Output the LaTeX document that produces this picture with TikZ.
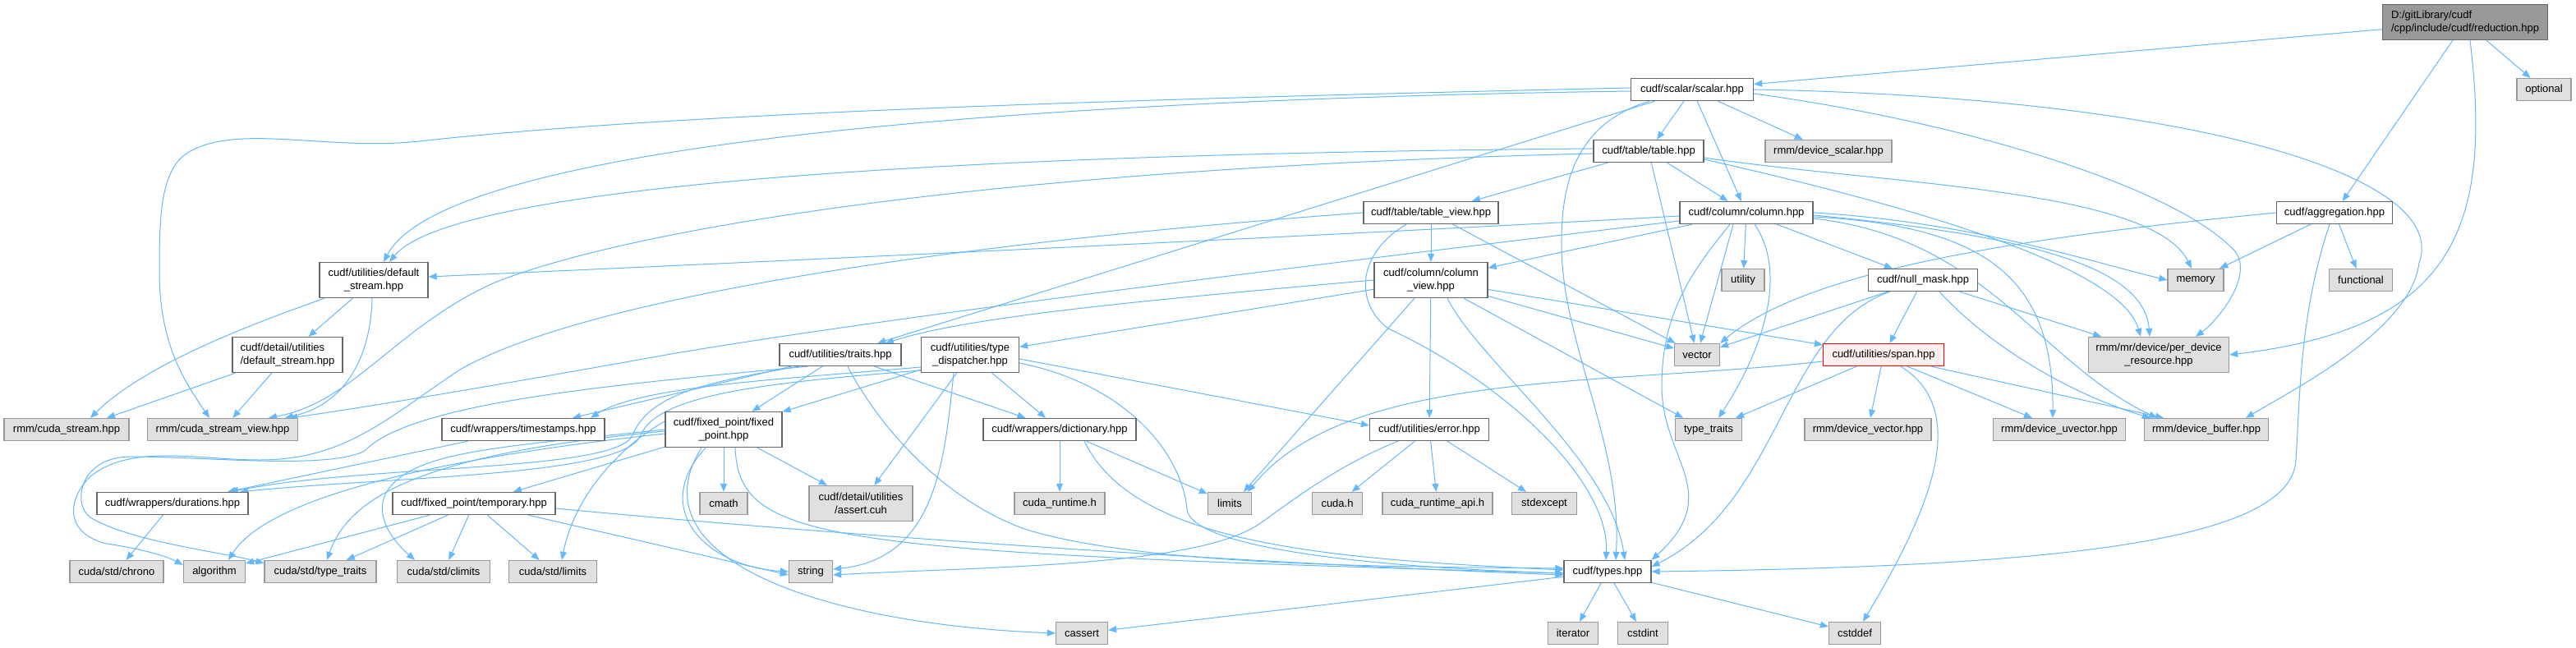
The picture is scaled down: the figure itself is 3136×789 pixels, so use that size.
\documentclass[tikz,border=0pt]{standalone}
\usepackage{fontspec}
\setmainfont{Liberation Sans}
\usetikzlibrary{arrows.meta,backgrounds}
\definecolor{edgecol}{HTML}{63B8FF}
\definecolor{docborder}{HTML}{666666}
\definecolor{extborder}{HTML}{999999}
\definecolor{extfill}{HTML}{E0E0E0}
\definecolor{rootfill}{HTML}{999999}
\definecolor{spanfill}{HTML}{FFF0F0}
\definecolor{spanborder}{HTML}{FF0000}
\tikzset{
  box/.style={draw=docborder, line width=1.3pt, fill=white, minimum height=27pt, inner sep=0pt, align=center, font=\fontsize{13}{16.5}\selectfont, text=black},
  ext/.style={box, draw=extborder, fill=extfill},
  rootbox/.style={box, fill=rootfill, draw=docborder},
  redbox/.style={box, fill=spanfill, draw=spanborder},
  tall/.style={minimum height=43pt},
  edge/.style={draw=edgecol, line width=1pt, -{Triangle[length=10pt,width=8pt]}},
}
\begin{document}
\begin{tikzpicture}[x=1pt,y=1pt]
\useasboundingbox (0,0) rectangle (3136,-789);
% ---------------- nodes
\node[rootbox,tall,minimum width=201pt,align=left] (root) at (3001,-27) {D:/gitLibrary/cudf\\/cpp/include/cudf/reduction.hpp};
\node[box,minimum width=149pt] (scalar) at (2060,-109) {cudf/scalar/scalar.hpp};
\node[ext,minimum width=66pt] (optional) at (3097,-109) {optional};
\node[box,minimum width=134pt] (table) at (2007,-184) {cudf/table/table.hpp};
\node[ext,minimum width=154pt] (devscalar) at (2226,-184) {rmm/device\_scalar.hpp};
\node[box,minimum width=164pt] (tableview) at (1742,-259) {cudf/table/table\_view.hpp};
\node[box,minimum width=162pt] (column) at (2126,-259) {cudf/column/column.hpp};
\node[box,minimum width=141pt] (aggregation) at (2842,-259) {cudf/aggregation.hpp};
\node[box,tall,minimum width=132pt] (defstream) at (455,-341) {cudf/utilities/default\\\_stream.hpp};
\node[box,tall,minimum width=138pt] (colview) at (1742,-341) {cudf/column/column\\\_view.hpp};
\node[ext,minimum width=52pt] (utility) at (2122,-341) {utility};
\node[box,minimum width=133pt] (nullmask) at (2341,-341) {cudf/null\_mask.hpp};
\node[ext,minimum width=68pt] (memory) at (2673,-341) {memory};
\node[ext,minimum width=77pt] (functional) at (2874,-341) {functional};
\node[box,tall,minimum width=134pt,align=left] (detdefstream) at (350,-432) {cudf/detail/utilities\\/default\_stream.hpp};
\node[box,minimum width=148pt] (traits) at (1023,-432) {cudf/utilities/traits.hpp};
\node[box,tall,minimum width=119pt] (typedisp) at (1181,-432) {cudf/utilities/type\\\_dispatcher.hpp};
\node[ext,minimum width=55pt] (vector) at (2066,-432) {vector};
\node[redbox,minimum width=147pt] (span) at (2293,-432) {cudf/utilities/span.hpp};
\node[ext,tall,minimum width=171pt] (perdev) at (2628,-432) {rmm/mr/device/per\_device\\\_resource.hpp};
\node[ext,minimum width=152pt] (cudastream) at (81,-523) {rmm/cuda\_stream.hpp};
\node[ext,minimum width=183pt] (cudastreamview) at (271,-523) {rmm/cuda\_stream\_view.hpp};
\node[box,minimum width=198pt] (timestamps) at (637,-523) {cudf/wrappers/timestamps.hpp};
\node[box,tall,minimum width=142pt] (fixedpoint) at (881,-523) {cudf/fixed\_point/fixed\\\_point.hpp};
\node[box,minimum width=186pt] (dictionary) at (1290,-523) {cudf/wrappers/dictionary.hpp};
\node[box,minimum width=145pt] (error) at (1740,-523) {cudf/utilities/error.hpp};
\node[ext,minimum width=81pt] (typetraits) at (2080,-523) {type\_traits};
\node[ext,minimum width=154pt] (devvector) at (2274,-523) {rmm/device\_vector.hpp};
\node[ext,minimum width=161pt] (devuvector) at (2507,-523) {rmm/device\_uvector.hpp};
\node[ext,minimum width=151pt] (devbuffer) at (2686,-523) {rmm/device\_buffer.hpp};
\node[box,minimum width=184pt] (durations) at (210,-613) {cudf/wrappers/durations.hpp};
\node[box,minimum width=198pt] (temporary) at (577,-613) {cudf/fixed\_point/temporary.hpp};
\node[ext,minimum width=58pt] (cmath) at (881,-613) {cmath};
\node[ext,tall,minimum width=126pt] (assert) at (1048,-613) {cudf/detail/utilities\\/assert.cuh};
\node[ext,minimum width=110pt] (cudaruntime) at (1290,-613) {cuda\_runtime.h};
\node[ext,minimum width=53pt] (limits) at (1497,-613) {limits};
\node[ext,minimum width=61pt] (cudah) at (1628,-613) {cuda.h};
\node[ext,minimum width=134pt] (cudaruntimeapi) at (1750,-613) {cuda\_runtime\_api.h};
\node[ext,minimum width=79pt] (stdexcept) at (1880,-613) {stdexcept};
\node[ext,minimum width=114pt] (chrono) at (142,-696) {cuda/std/chrono};
\node[ext,minimum width=75pt] (algorithm) at (261,-696) {algorithm};
\node[ext,minimum width=136pt] (cstdtypetraits) at (390,-696) {cuda/std/type\_traits};
\node[ext,minimum width=113pt] (climits) at (540,-696) {cuda/std/climits};
\node[ext,minimum width=107pt] (cstdlimits) at (673,-696) {cuda/std/limits};
\node[ext,minimum width=53pt] (string) at (987,-696) {string};
\node[box,minimum width=106pt] (types) at (1957,-696) {cudf/types.hpp};
\node[ext,minimum width=63pt] (cassert) at (1317,-771) {cassert};
\node[ext,minimum width=61pt] (iterator) at (1915,-771) {iterator};
\node[ext,minimum width=61pt] (cstdint) at (2000,-771) {cstdint};
\node[ext,minimum width=63pt] (cstddef) at (2258,-771) {cstddef};
% ---------------- edges
\begin{scope}[on background layer]
\fill[white] (0,0) rectangle (3136,-789);
% root
\draw[edge] (root) -- (scalar);
\draw[edge] (root) -- (optional);
\draw[edge] (root) -- (aggregation);
\draw[edge] ([xshift=6pt]root.south) .. controls (3035,-280) and (2985,-400) .. (perdev.east);
% aggregation
\draw[edge] (aggregation) -- (memory);
\draw[edge] (aggregation) -- (functional);
\draw[edge] (aggregation.west) .. controls (2450,-290) and (2200,-330) .. (vector.north east);
\draw[edge] ([xshift=-6pt]aggregation.south) .. controls (2800,-380) and (2800,-480) .. (2795,-560) .. controls (2790,-660) and (2500,-690) .. (types.east);
% scalar
\draw[edge] (scalar) -- (table);
\draw[edge] (scalar) -- (column);
\draw[edge] (scalar) -- (devscalar);
\draw[edge] ([yshift=-2pt]scalar.west) .. controls (1200,-122) and (540,-180) .. ([xshift=12pt]defstream.north);
\draw[edge] ([yshift=2pt]scalar.west) .. controls (1300,-122) and (800,-140) .. (510,-172) .. controls (400,-184) and (290,-150) .. (230,-185) .. controls (196,-205) and (194,-260) .. (194,-330) .. controls (194,-420) and (225,-465) .. ([xshift=-16pt]cudastreamview.north);
\draw[edge] (scalar) -- (traits);
\draw[edge] ([xshift=-52pt]scalar.south) .. controls (1920,-150) and (1900,-220) .. (1901,-300) .. controls (1902,-420) and (1975,-540) .. ([xshift=10pt]types.north);
\draw[edge] (scalar.east) .. controls (2650,-118) and (2985,-210) .. (2945,-320) .. controls (2935,-400) and (2800,-470) .. ([xshift=48pt]devbuffer.north);
\draw[edge] ([yshift=-5pt]scalar.east) .. controls (2400,-150) and (2650,-230) .. (2720,-305) .. controls (2745,-335) and (2700,-390) .. ([xshift=45pt]perdev.north);
% table
\draw[edge] (table) -- (tableview);
\draw[edge] (table) -- (column);
\draw[edge] (table) -- (vector);
\draw[edge] ([yshift=3pt]table.west) .. controls (1300,-186) and (560,-215) .. ([xshift=19pt]defstream.north);
\draw[edge] ([yshift=-3pt]table.west) .. controls (1200,-205) and (760,-280) .. (600,-345) .. controls (480,-400) and (430,-490) .. ([xshift=56pt]cudastreamview.north);
\draw[edge] ([yshift=-8pt]table.east) .. controls (2300,-225) and (2620,-230) .. ([xshift=-5pt]memory.north);
\draw[edge] ([yshift=-10pt]table.east) .. controls (2300,-245) and (2580,-320) .. ([xshift=-22pt]perdev.north);
% table_view
\draw[edge] (tableview) -- (colview);
\draw[edge] (tableview) -- (vector);
\draw[edge] ([xshift=-30pt]tableview.south) .. controls (1650,-310) and (1650,-370) .. (1690,-400) .. controls (1840,-470) and (1960,-590) .. ([xshift=-2pt]types.north);
\draw[edge] (tableview.west) .. controls (1100,-300) and (700,-370) .. (560,-450) .. controls (470,-510) and (420,-560) .. (316,-560) .. controls (240,-560) and (160,-540) .. (110,-580) .. controls (80,-610) and (80,-650) .. (130,-662) .. controls (170,-668) and (200,-676) .. ([yshift=-6pt]algorithm.north west);
% column
\draw[edge] (column) -- (colview);
\draw[edge] (column) -- (nullmask);
\draw[edge] (column) -- (utility);
\draw[edge] ([xshift=-16pt]column.south) -- (vector);
\draw[edge] ([xshift=-20pt]column.south) .. controls (2060,-330) and (2023,-380) .. (2023,-470) .. controls (2023,-560) and (2100,-600) .. (types.north east);
\draw[edge] ([xshift=10pt]column.south) .. controls (2175,-330) and (2150,-420) .. ([xshift=12pt]typetraits.north);
\draw[edge] ([yshift=-4pt]column.west) .. controls (1600,-288) and (900,-320) .. ([yshift=4pt]defstream.east);
\draw[edge] ([yshift=-10pt]column.west) .. controls (1600,-322) and (1050,-390) .. (800,-434) .. controls (600,-470) and (420,-500) .. ([xshift=81pt]cudastreamview.north);
\draw[edge] (column.east) .. controls (2400,-270) and (2550,-320) .. (memory.west);
\draw[edge] ([yshift=-3pt]column.east) .. controls (2450,-285) and (2610,-320) .. ([xshift=-11pt]perdev.north);
\draw[edge] ([yshift=-5pt]column.east) .. controls (2420,-275) and (2500,-340) .. ([xshift=-8pt]devuvector.north);
\draw[edge] ([yshift=-7pt]column.east) .. controls (2420,-290) and (2480,-440) .. ([xshift=-60pt]devbuffer.north);
% column_view
\draw[edge] (colview) -- (error);
\draw[edge] ([xshift=-20pt]colview.south) -- ([xshift=17pt]limits.north);
\draw[edge] (colview) -- (span);
\draw[edge] (colview.west) .. controls (1400,-365) and (1180,-385) .. ([xshift=55pt]traits.north);
\draw[edge] (colview) -- (typedisp);
\draw[edge] ([xshift=40pt]colview.south) -- ([xshift=-31pt]typetraits.north);
\draw[edge] ([xshift=20pt]colview.south) .. controls (1800,-440) and (1960,-560) .. ([xshift=21pt]types.north);
\draw[edge] (colview) -- (vector);
% null_mask
\draw[edge] (nullmask) -- (span);
\draw[edge] ([xshift=-40pt]nullmask.south) .. controls (2170,-400) and (2170,-610) .. ([yshift=6pt]types.east);
\draw[edge] (nullmask) -- (vector);
\draw[edge] (nullmask) -- (perdev);
\draw[edge] ([xshift=20pt]nullmask.south) .. controls (2420,-420) and (2520,-480) .. ([xshift=-68pt]devbuffer.north);
% default_stream
\draw[edge] (defstream) -- (detdefstream);
\draw[edge] ([xshift=-60pt]defstream.south) .. controls (320,-390) and (180,-440) .. ([xshift=29pt]cudastream.north);
\draw[edge] ([xshift=-2pt]defstream.south) .. controls (452,-420) and (430,-490) .. ([xshift=76pt]cudastreamview.north);
\draw[edge] (detdefstream) -- ([xshift=49pt]cudastream.north);
\draw[edge] (detdefstream) -- (cudastreamview);
% traits
\draw[edge] (traits) -- (fixedpoint);
\draw[edge] (traits) -- (dictionary);
\draw[edge] ([xshift=9pt]traits.south) .. controls (1070,-520) and (1150,-610) .. (1250,-645) .. controls (1400,-690) and (1700,-690) .. ([yshift=4pt]types.west);
\draw[edge] (traits) -- (timestamps);
\draw[edge] ([xshift=-50pt]traits.south) .. controls (860,-465) and (790,-480) .. (770,-530) .. controls (750,-575) and (450,-565) .. ([xshift=70pt]durations.north);
\draw[edge] ([xshift=-40pt]traits.south) .. controls (750,-468) and (500,-490) .. (444,-549) .. controls (400,-572) and (250,-556) .. (160,-556) .. controls (95,-556) and (88,-615) .. (110,-630) .. controls (160,-660) and (270,-672) .. ([yshift=-4pt]cstdtypetraits.north west);
% type_dispatcher
\draw[edge] (typedisp) -- (fixedpoint);
\draw[edge] (typedisp) -- (dictionary);
\draw[edge] (typedisp) -- (assert);
\draw[edge] ([xshift=-20pt]typedisp.south) .. controls (1150,-560) and (1140,-680) .. ([yshift=3pt]string.east);
\draw[edge] ([yshift=-5pt]typedisp.east) -- ([yshift=5pt]error.west);
\draw[edge] ([yshift=-10pt]typedisp.east) .. controls (1380,-470) and (1440,-560) .. (1445,-620) .. controls (1450,-665) and (1650,-690) .. ([yshift=-2pt]types.west);
\draw[edge] ([yshift=-15pt]typedisp.west) .. controls (950,-462) and (780,-470) .. ([xshift=82pt]timestamps.north);
\draw[edge] ([yshift=-19pt]typedisp.west) .. controls (950,-465) and (800,-478) .. (780,-530) .. controls (760,-580) and (480,-580) .. ([xshift=82pt]durations.north);
% fixed_point
\draw[edge] (fixedpoint) -- (cmath);
\draw[edge] (fixedpoint) -- (assert);
\draw[edge] ([xshift=-22pt]fixedpoint.south) .. controls (790,-620) and (860,-690) .. (string.west);
\draw[edge] ([xshift=-27pt]fixedpoint.south) .. controls (770,-680) and (1000,-760) .. (cassert.west);
\draw[edge] ([xshift=14pt]fixedpoint.south) .. controls (900,-660) and (1000,-672) .. ([yshift=-2pt]types.west);
\draw[edge] (fixedpoint) -- (temporary);
\draw[edge] ([yshift=-5pt]fixedpoint.west) .. controls (560,-555) and (330,-600) .. ([xshift=17pt]algorithm.north);
\draw[edge] ([yshift=-2pt]fixedpoint.west) .. controls (510,-553) and (425,-606) .. ([xshift=8pt]cstdtypetraits.north);
\draw[edge] (fixedpoint.west) .. controls (600,-545) and (500,-550) .. (470,-600) .. controls (455,-630) and (480,-660) .. ([xshift=-35pt]climits.north);
\draw[edge] ([yshift=10pt]fixedpoint.west) .. controls (760,-540) and (700,-600) .. ([xshift=11pt]cstdlimits.north);
% temporary
\draw[edge] (temporary) -- (algorithm);
\draw[edge] (temporary) -- (cstdtypetraits);
\draw[edge] (temporary) -- (climits);
\draw[edge] (temporary) -- (cstdlimits);
\draw[edge] ([xshift=66pt]temporary.south) -- ([yshift=-4pt]string.west);
\draw[edge] ([yshift=-6pt]temporary.east) .. controls (1000,-650) and (1500,-685) .. ([yshift=-4pt]types.west);
% wrappers
\draw[edge] (timestamps) -- (durations);
\draw[edge] (durations) -- (chrono);
\draw[edge] (dictionary) -- (cudaruntime);
\draw[edge] (dictionary) -- (limits);
\draw[edge] ([xshift=30pt]dictionary.south) .. controls (1380,-660) and (1600,-680) .. ([yshift=2pt]types.west);
% error
\draw[edge] (error) -- (cudah);
\draw[edge] (error) -- (cudaruntimeapi);
\draw[edge] (error) -- (stdexcept);
\draw[edge] ([xshift=-38pt]error.south) .. controls (1620,-570) and (1560,-620) .. (1530,-640) .. controls (1450,-690) and (1200,-690) .. ([yshift=-4pt]string.east);
% span
\draw[edge] (span) -- (typetraits);
\draw[edge] (span) -- (devvector);
\draw[edge] ([xshift=29pt]span.south) -- ([xshift=-33pt]devuvector.north);
\draw[edge] ([xshift=58pt]span.south) -- ([xshift=-52pt]devbuffer.north);
\draw[edge] ([xshift=21pt]span.south) .. controls (2400,-500) and (2350,-620) .. ([xshift=10pt]cstddef.north);
\draw[edge] ([yshift=-8pt]span.west) .. controls (1950,-470) and (1640,-450) .. ([xshift=22pt]limits.north);
% types
\draw[edge] (types) -- (iterator);
\draw[edge] (types) -- (cstdint);
\draw[edge] (types) -- (cstddef);
\draw[edge] (types) -- (cassert);
\end{scope}
\end{tikzpicture}
\end{document}
